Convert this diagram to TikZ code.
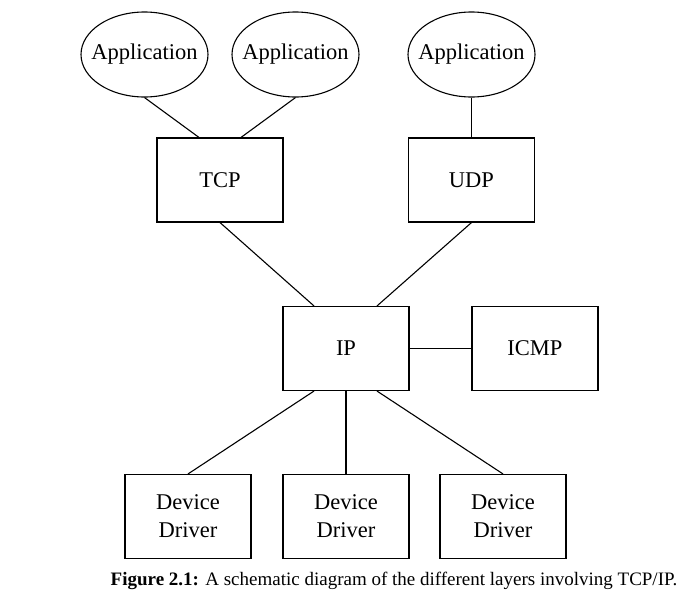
\documentclass[tikz,border=0pt]{standalone}
\usepackage{fontspec}
\setmainfont{Liberation Serif}
\usetikzlibrary{shapes.geometric}
\begin{document}
\begin{tikzpicture}[x=1pt,y=-1pt,line width=1.1pt,
  app/.style={ellipse, draw, minimum width=127pt, minimum height=85pt, inner xsep=-12pt, inner ysep=0pt, font=\fontsize{22.5}{28}\selectfont},
  layer/.style={rectangle, draw, minimum width=126pt, minimum height=84pt, inner sep=0pt, align=center, font=\fontsize{22.5}{28}\selectfont}]
\useasboundingbox (0,0) rectangle (691,597);
\node[app] (app1) at (144.5,54.5){Application};
\node[app] (app2) at (295.5,54.5){Application};
\node[app] (app3) at (471.5,54.5){Application};
\node[layer] (tcp) at (220,180){TCP};
\node[layer] (udp) at (471.5,180){UDP};
\draw[](app1.south) -- ([xshift=-21pt]tcp.north);
\draw[](app2.south) -- ([xshift=21pt]tcp.north);
\draw[](app3.south) -- (udp.north);
\node[layer] (ip) at (346,348.5){IP};
\node[layer] (icmp) at (535,348.5){ICMP};
\draw[](tcp.south) -- ([xshift=-32pt]ip.north);
\draw[](udp.south) -- ([xshift=31pt]ip.north);
\draw[](ip.east) -- (icmp.west);
\node[layer] (dd1) at (188,516.5){Device\\Driver};
\node[layer] (dd2) at (346,516.5){Device\\Driver};
\node[layer] (dd3) at (503,516.5){Device\\Driver};
\draw[]([xshift=-32pt]ip.south) -- (dd1.north);
\draw[](ip.south) -- (dd2.north);
\draw[]([xshift=31pt]ip.south) -- (dd3.north);
\node[font=\fontsize{19}{23}\selectfont] (caption) at (394,581){\textbf{Figure 2.1:} A schematic diagram of the different layers involving TCP/IP.};
\end{tikzpicture}
\end{document}
